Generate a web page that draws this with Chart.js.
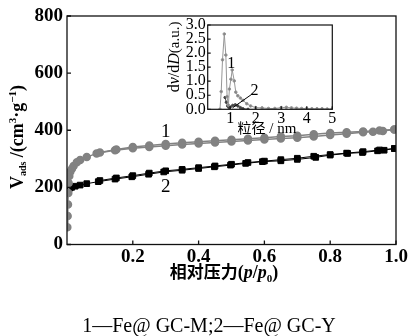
<!DOCTYPE html>
<html>
<head>
<meta charset="utf-8">
<script src="https://cdn.jsdelivr.net/npm/chart.js@4"></script>
<style>
  html, body { margin: 0; padding: 0; background: #fff; }
  #wrap { position: relative; width: 409px; height: 336px; }
  #main { position: absolute; left: 0; top: 0; }
  #inset { position: absolute; left: 165px; top: 15px; }
</style>
</head>
<body>
<div id="wrap">
  <canvas id="main" width="409" height="336" style="width:409px;height:336px"></canvas>
  <canvas id="inset" width="180" height="125" style="width:180px;height:125px"></canvas>
</div>
<script>
// 吸附等温线 - 样品1 (灰色圆点)
const ads1P = [0.001, 0.002, 0.003, 0.004, 0.005, 0.007, 0.01, 0.015, 0.02, 0.03, 0.04, 0.06, 0.09, 0.146, 0.2, 0.25, 0.3, 0.35, 0.4, 0.45, 0.5, 0.55, 0.6, 0.65, 0.7, 0.75, 0.8, 0.85, 0.9, 0.93, 0.96, 0.995];
const ads1V = [60, 100, 140, 180, 215, 240, 255, 265, 275, 288, 296, 306, 319, 330, 337, 341, 346, 350, 354, 357, 361, 364, 368, 371, 374, 378, 383, 388, 393, 395, 397, 403];
const des1P = [0.995, 0.95, 0.9, 0.85, 0.8, 0.75, 0.7, 0.65, 0.6, 0.55, 0.5, 0.45, 0.4, 0.35, 0.3, 0.25, 0.2, 0.15, 0.1];
const des1V = [403, 399, 396, 393, 390, 386, 381, 378, 374, 370, 367, 363, 360, 356, 352, 347, 341, 333, 322];
// 样品2 (黑色方块)
const ads2P = [0.001, 0.002, 0.004, 0.008, 0.014, 0.025, 0.04, 0.06, 0.095, 0.146, 0.197, 0.248, 0.294, 0.35, 0.4, 0.448, 0.497, 0.543, 0.594, 0.65, 0.7, 0.756, 0.8, 0.853, 0.898, 0.944, 0.964, 0.995];
const ads2V = [180, 188, 193, 197, 200, 204, 208, 213, 220, 229, 237, 246, 254, 260, 266, 272, 278, 284, 290, 293, 298, 305, 313, 319, 322, 328, 330, 336];
const des2P = [0.995, 0.95, 0.9, 0.85, 0.8, 0.75, 0.7, 0.65, 0.6, 0.55, 0.5, 0.45, 0.4, 0.35, 0.3, 0.25, 0.2, 0.15, 0.1];
const des2V = [336, 331, 325, 320, 315, 309, 302, 297, 292, 287, 281, 275, 269, 263, 258, 250, 241, 233, 224];
const xTicks = [0.2, 0.4, 0.6, 0.8, 1.0];
const yTicks = [0, 200, 400, 600, 800];

// 孔径分布 (插图)
const pore1D = [0.6, 0.65, 0.7, 0.77, 0.83, 0.88, 0.93, 0.97, 1.03, 1.08, 1.16, 1.22, 1.3, 1.4, 1.5, 1.65, 1.8, 2.0, 2.25, 2.5, 2.75, 3.0, 3.2, 3.4, 3.6, 3.8, 4.0, 4.2, 4.4, 4.6, 4.8, 5.0];
const pore1V = [0.0, 0.63, 1.76, 2.68, 1.93, 0.45, 0.15, 0.72, 1.07, 1.4, 1.01, 0.61, 0.48, 0.4, 0.32, 0.2, 0.12, 0.06, 0.05, 0.03, 0.03, 0.06, 0.07, 0.05, 0.04, 0.03, 0.03, 0.02, 0.02, 0.02, 0.01, 0.01];
const pore2D = [0.8, 0.85, 0.9, 0.95, 1.0, 1.1, 1.2, 1.3, 1.4, 1.5, 1.7];
const pore2V = [0.42, 0.25, 0.12, 0.06, 0.08, 0.14, 0.16, 0.12, 0.06, 0.02, 0.0];
const insetXTicks = [1, 2, 3, 4, 5];
const insetYTicks = [0, 0.5, 1.0, 1.5, 2.0, 2.5, 3.0];

const serif = '"Liberation Serif", "DejaVu Serif", serif';
const cjk = '"Noto Sans CJK SC", sans-serif';
const gray = 'rgb(130,130,130)';

const pts = (xs, ys) => xs.map((x, i) => ({ x: x, y: ys[i] }));

// 混合字体的文字
function drawRuns(ctx, parts, x, y) {
    let w = 0;
    parts.forEach(p => { ctx.font = p[1]; w += ctx.measureText(p[0]).width; });
    let cx = x - w / 2;
    ctx.textAlign = 'left';
    ctx.textBaseline = 'alphabetic';
    parts.forEach(p => {
        ctx.font = p[1];
        ctx.fillText(p[0], cx, y + (p[2] || 0));
        cx += ctx.measureText(p[0]).width;
    });
}

function frameAndTicks(chart, len, lw) {
    const ctx = chart.ctx;
    const a = chart.chartArea;
    const sx = chart.scales.x, sy = chart.scales.y;
    ctx.save();
    ctx.strokeStyle = '#111';
    ctx.lineWidth = lw;
    ctx.strokeRect(a.left, a.top, a.right - a.left, a.bottom - a.top);
    ctx.beginPath();
    sx.ticks.forEach(t => {
        const px = sx.getPixelForValue(t.value);
        ctx.moveTo(px, a.bottom); ctx.lineTo(px, a.bottom - len);
    });
    sy.ticks.forEach(t => {
        const py = sy.getPixelForValue(t.value);
        ctx.moveTo(a.left, py); ctx.lineTo(a.left + len, py);
    });
    ctx.stroke();
    ctx.restore();
}

const mainText = {
    id: 'mainText',
    afterDraw(chart) {
        const ctx = chart.ctx;
        const sx = chart.scales.x, sy = chart.scales.y;
        frameAndTicks(chart, 4, 1.3);
        ctx.save();
        ctx.fillStyle = '#000';
        // 曲线编号
        ctx.font = '19px ' + serif;
        ctx.textAlign = 'center';
        ctx.textBaseline = 'middle';
        ctx.fillText('1', sx.getPixelForValue(0.30), sy.getPixelForValue(394));
        ctx.fillText('2', sx.getPixelForValue(0.30), sy.getPixelForValue(201));
        // x 轴标题
        const b = 'bold 18px ' + serif, bi = 'italic bold 18px ' + serif;
        drawRuns(ctx, [['相对压力', 'bold 17px ' + cjk], ['(', b], ['p', bi], ['/', b], ['p', bi], ['0', 'bold 11px ' + serif, 4], [')', b]], 224, 278);
        // y 轴标题
        ctx.translate(23, 137);
        ctx.rotate(-Math.PI / 2);
        drawRuns(ctx, [['V', b], ['ads', 'bold 10px ' + serif, 3], [' /(cm', b], ['3', 'bold 11px ' + serif, -7], ['·g', b], ['−1', 'bold 11px ' + serif, -7], [')', b]], 0, 0);
        ctx.restore();
        // 图注
        ctx.save();
        ctx.fillStyle = '#000';
        drawRuns(ctx, [['1—Fe@ GC-M;2—Fe@ GC-Y', '20px ' + serif]], 209, 332);
        ctx.restore();
    }
};

new Chart(document.getElementById('main'), {
    type: 'scatter',
    data: {
        datasets: [
            { data: pts(ads1P, ads1V), showLine: true, borderColor: gray, backgroundColor: gray, borderWidth: 1.5, pointRadius: 3.5, pointStyle: 'circle' },
            { data: pts(des1P, des1V), showLine: true, borderColor: gray, backgroundColor: gray, borderWidth: 1.5, pointRadius: 3.5, pointStyle: 'circle' },
            { data: pts(ads2P, ads2V), showLine: true, borderColor: '#000', backgroundColor: '#000', borderWidth: 1, pointRadius: 4, pointStyle: 'rect' },
            { data: pts(des2P, des2V), showLine: true, borderColor: '#000', backgroundColor: '#000', borderWidth: 1, pointRadius: 4, pointStyle: 'rect' }
        ]
    },
    options: {
        responsive: false,
        animation: false,
        layout: { padding: { left: 0, right: 13, top: 16, bottom: 51.5 } },
        plugins: { legend: { display: false }, tooltip: { enabled: false } },
        scales: {
            x: {
                type: 'linear', min: 0, max: 1,
                afterBuildTicks: s => { s.ticks = xTicks.map(v => ({ value: v })); },
                afterFit: s => { s.height = 40; },
                ticks: { font: { family: serif, size: 19, weight: 'bold' }, color: '#000', padding: 1, maxRotation: 0, autoSkip: false, callback: v => v.toFixed(1) },
                grid: { display: false, drawTicks: false },
                border: { display: false }
            },
            y: {
                type: 'linear', min: 0, max: 800,
                afterBuildTicks: s => { s.ticks = yTicks.map(v => ({ value: v })); },
                afterFit: s => { s.width = 67; },
                ticks: { font: { family: serif, size: 19, weight: 'bold' }, color: '#000', padding: 4, autoSkip: false, callback: v => String(v) },
                grid: { display: false, drawTicks: false },
                border: { display: false }
            }
        }
    },
    plugins: [mainText]
});

const insetText = {
    id: 'insetText',
    afterDraw(chart) {
        const ctx = chart.ctx;
        const sx = chart.scales.x, sy = chart.scales.y;
        frameAndTicks(chart, 3, 1.2);
        ctx.save();
        ctx.fillStyle = '#000';
        ctx.strokeStyle = '#000';
        ctx.font = '16px ' + serif;
        ctx.textAlign = 'center';
        ctx.textBaseline = 'middle';
        ctx.fillText('1', sx.getPixelForValue(1.04), sy.getPixelForValue(1.61));
        ctx.fillText('2', sx.getPixelForValue(1.95), sy.getPixelForValue(0.67));
        ctx.lineWidth = 1;
        ctx.beginPath();
        ctx.moveTo(sx.getPixelForValue(1.87), sy.getPixelForValue(0.55));
        ctx.lineTo(sx.getPixelForValue(1.09), sy.getPixelForValue(0.05));
        ctx.stroke();
        // x 标题
        drawRuns(ctx, [['粒径', '14px ' + cjk], [' / nm', '15px ' + serif]], 102, 118);
        // y 标题
        ctx.translate(14, 42);
        ctx.rotate(-Math.PI / 2);
        const n = '16px ' + serif, it = 'italic 16px ' + serif;
        drawRuns(ctx, [['d', n], ['v', it], ['/d', n], ['D', it], ['(a.u.)', '15px ' + serif]], 0, 0);
        ctx.restore();
    }
};

new Chart(document.getElementById('inset'), {
    type: 'scatter',
    data: {
        datasets: [
            { data: pts(pore1D, pore1V), showLine: true, borderColor: 'rgb(150,150,150)', backgroundColor: 'rgb(130,130,130)', borderWidth: 1, pointRadius: 1.3 },
            { data: pts(pore2D, pore2V), showLine: true, borderColor: 'rgb(70,70,70)', backgroundColor: 'rgb(70,70,70)', borderWidth: 1, pointRadius: 1.2 }
        ]
    },
    options: {
        responsive: false,
        animation: false,
        layout: { padding: { left: 0, right: 12.7, top: 7.3, bottom: 14.7 } },
        plugins: { legend: { display: false }, tooltip: { enabled: false } },
        scales: {
            x: {
                type: 'linear', min: 0.12, max: 5,
                afterBuildTicks: s => { s.ticks = insetXTicks.map(v => ({ value: v })); },
                afterFit: s => { s.height = 16; },
                ticks: { font: { family: serif, size: 16 }, color: '#000', padding: 0, maxRotation: 0, autoSkip: false, callback: v => String(v) },
                grid: { display: false, drawTicks: false },
                border: { display: false }
            },
            y: {
                type: 'linear', min: 0, max: 3,
                afterBuildTicks: s => { s.ticks = insetYTicks.map(v => ({ value: v })); },
                afterFit: s => { s.width = 42.7; },
                ticks: { font: { family: serif, size: 16, lineHeight: 1 }, color: '#000', padding: 2, autoSkip: false, callback: v => v.toFixed(1) },
                grid: { display: false, drawTicks: false },
                border: { display: false }
            }
        }
    },
    plugins: [insetText]
});
</script>
</body>
</html>
